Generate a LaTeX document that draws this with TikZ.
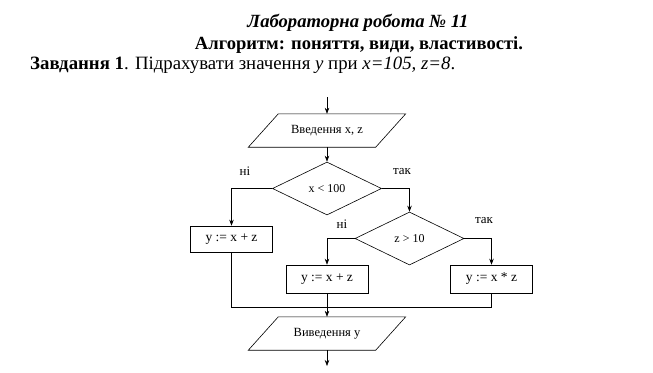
\documentclass[tikz,border=0pt]{standalone}
\usepackage{fontspec}
\setmainfont{Liberation Serif}
\usetikzlibrary{shapes.geometric,arrows.meta}
\tikzset{
  line/.style={draw=black, line width=0.6pt},
  arr/.style={line, -{Stealth[length=6pt,width=4.5pt]}},
  procbox/.style={line, rectangle, minimum width=82pt, minimum height=27pt, inner sep=0pt, font=\fontsize{13.5}{13.5}\selectfont},
  decide/.style={line, diamond, minimum width=109pt, minimum height=53pt, inner sep=0pt, font=\fontsize{12}{12}\selectfont},
  iobox/.style={rectangle, minimum width=127pt, minimum height=33pt, inner sep=0pt, font=\fontsize{12.5}{12.5}\selectfont},
  lbl/.style={font=\fontsize{13}{13}\selectfont, inner sep=0pt}
}
\begin{document}
\begin{tikzpicture}[x=1pt,y=-1pt]
\useasboundingbox (0,0) rectangle (653,372);
% titles
\node[anchor=base, inner sep=0pt] (t1) at (358,27) {\resizebox{221pt}{!}{\bfseries\itshape Лабораторна робота № 11}};
\node[anchor=base, inner sep=0pt] (t2) at (359,49) {\resizebox{328pt}{!}{\bfseries Алгоритм: поняття, види, властивості.}};
\node[anchor=base west, inner sep=0pt] (t3) at (30,69) {\resizebox{425pt}{!}{\textbf{Завдання 1}. Підрахувати значення \textit{y} при \textit{x=105, z=8}.}};
% flowchart
\coordinate (start) at (327,97);
\node[iobox] (in) at (327,130.5) {Введення x, z};
\draw[line] ([xshift=15pt]in.north west) -- ([xshift=15pt]in.north east) -- ([xshift=-15pt]in.south east) -- ([xshift=-15pt]in.south west) -- cycle;
\node[decide] (d1) at (327,188.5) {x < 100};
\node[decide] (d2) at (409.5,238.5) {z > 10};
\node[procbox, minimum height=26pt] (b1) at (231.5,239) {y := x + z};
\node[procbox, minimum height=28pt] (b2) at (327,279) {y := x + z};
\node[procbox, minimum height=28pt] (b3) at (491.5,279) {y := x * z};
\node[iobox] (out) at (327,333.5) {Виведення у};
\draw[line] ([xshift=15pt]out.north west) -- ([xshift=15pt]out.north east) -- ([xshift=-15pt]out.south east) -- ([xshift=-15pt]out.south west) -- cycle;
\coordinate (m) at (327,307);
\coordinate (end) at (327,366);
% connectors
\draw[arr] (start) -- (in.north);
\draw[arr] (in.south) -- (d1.north);
\draw[arr] (d1.west) -| (b1.north);
\draw[arr] (d1.east) -| (d2.north);
\draw[arr] (d2.west) -| (b2.north);
\draw[arr] (d2.east) -| (b3.north);
\draw[line] (b1.south) -- (b1.south |- m) -- (b3.south |- m) -- (b3.south);
\draw[arr] (b2.south) -- (out.north);
\draw[arr] (out.south) -- (end);
% labels
\node[lbl] (l1) at (245,171) {ні};
\node[lbl] (l2) at (402,172) {так};
\node[lbl] (l3) at (342,224) {ні};
\node[lbl] (l4) at (484,221) {так};
\end{tikzpicture}
\end{document}
